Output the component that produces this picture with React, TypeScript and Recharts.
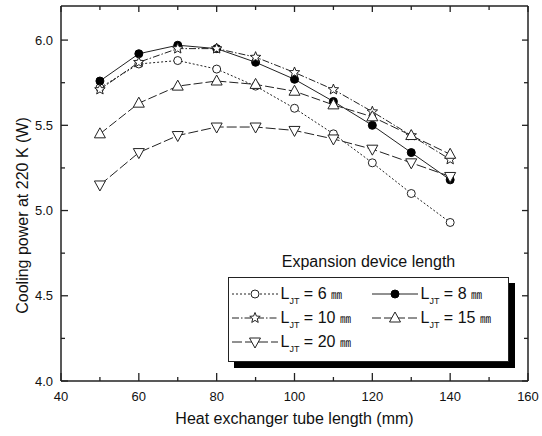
import React from 'react';
import { LineChart, Line, XAxis, YAxis, Legend } from 'recharts';

const tubeLength = [50, 60, 70, 80, 90, 100, 110, 120, 130, 140];
const ljt6 = [5.72, 5.86, 5.88, 5.83, 5.73, 5.6, 5.45, 5.28, 5.1, 4.93];
const ljt8 = [5.76, 5.92, 5.97, 5.95, 5.87, 5.77, 5.64, 5.5, 5.34, 5.18];
const ljt10 = [5.71, 5.87, 5.95, 5.95, 5.9, 5.81, 5.71, 5.58, 5.44, 5.3];
const ljt15 = [5.45, 5.63, 5.73, 5.76, 5.74, 5.7, 5.62, 5.55, 5.44, 5.33];
const ljt20 = [5.15, 5.34, 5.44, 5.49, 5.49, 5.47, 5.42, 5.36, 5.28, 5.2];

const jtLengths = ['6', '8', '10', '15', '20'];
const xTicks = [40, 50, 60, 70, 80, 90, 100, 110, 120, 130, 140, 150, 160];
const xMajor = [40, 60, 80, 100, 120, 140, 160];
const yTicks = [4.0, 4.25, 4.5, 4.75, 5.0, 5.25, 5.5, 5.75, 6.0];
const yMajor = [4.0, 4.5, 5.0, 5.5, 6.0];

const data = tubeLength.map((x, i) => ({
  x,
  l6: ljt6[i],
  l8: ljt8[i],
  l10: ljt10[i],
  l15: ljt15[i],
  l20: ljt20[i],
}));

const FONT = '"Liberation Sans", Arial, Helvetica, sans-serif';
const INK = '#222';
const TICK = '#222';

type MarkerKind = 'circle' | 'disc' | 'star' | 'up' | 'down';

const Marker = ({ kind, cx, cy }: { kind: MarkerKind; cx: number; cy: number }) => {
  if (kind === 'circle') return <circle cx={cx} cy={cy} r={4} fill="#fff" stroke={INK} strokeWidth={1} />;
  if (kind === 'disc') return <circle cx={cx} cy={cy} r={4} fill="#000" stroke="#000" strokeWidth={1} />;
  if (kind === 'star') {
    const pts: string[] = [];
    for (let k = 0; k < 10; k++) {
      const r = k % 2 === 0 ? 5.5 : 2.4;
      const a = -Math.PI / 2 + (k * Math.PI) / 5;
      pts.push(`${cx + r * Math.cos(a)},${cy + r * Math.sin(a)}`);
    }
    return <polygon points={pts.join(' ')} fill="#fff" stroke={INK} strokeWidth={1} />;
  }
  if (kind === 'up')
    return (
      <polygon
        points={`${cx},${cy - 6} ${cx - 5.5},${cy + 4} ${cx + 5.5},${cy + 4}`}
        fill="#fff"
        stroke={INK}
        strokeWidth={1}
      />
    );
  return (
    <polygon
      points={`${cx - 5.5},${cy - 4} ${cx + 5.5},${cy - 4} ${cx},${cy + 6}`}
      fill="#fff"
      stroke={INK}
      strokeWidth={1}
    />
  );
};

const series = [
  { key: 'l6', kind: 'circle' as MarkerKind, dash: '2 2' },
  { key: 'l8', kind: 'disc' as MarkerKind, dash: '' },
  { key: 'l10', kind: 'star' as MarkerKind, dash: '7 2 1.5 2' },
  { key: 'l15', kind: 'up' as MarkerKind, dash: '9 3' },
  { key: 'l20', kind: 'down' as MarkerKind, dash: '10 3' },
];

const LeftTick = (props: any) => {
  const { x, y, payload } = props;
  const major = yMajor.some((v) => Math.abs(v - payload.value) < 1e-6);
  return (
    <g>
      <line x1={x} y1={y} x2={x + (major ? 7 : 4)} y2={y} stroke={TICK} strokeWidth={1.3} />
      {major && (
        <text x={x - 8} y={y + 4.5} textAnchor="end" fontSize={13} fontFamily={FONT} fill="#111">
          {payload.value.toFixed(1)}
        </text>
      )}
    </g>
  );
};

const RightTick = (props: any) => {
  const { x, y, payload } = props;
  const major = yMajor.some((v) => Math.abs(v - payload.value) < 1e-6);
  return <line x1={x} y1={y} x2={x - (major ? 6 : 4)} y2={y} stroke={TICK} strokeWidth={1.3} />;
};

const BottomTick = (props: any) => {
  const { x, y, payload } = props;
  const major = xMajor.includes(payload.value);
  return (
    <g>
      <line x1={x} y1={y} x2={x} y2={y - (major ? 8 : 4)} stroke={TICK} strokeWidth={1.3} />
      {major && (
        <text x={x} y={y + 20} textAnchor="middle" fontSize={13} fontFamily={FONT} fill="#111">
          {payload.value}
        </text>
      )}
    </g>
  );
};

const TopTick = (props: any) => {
  const { x, y, payload } = props;
  const major = xMajor.includes(payload.value);
  return <line x1={x} y1={y} x2={x} y2={y + (major ? 6 : 4)} stroke={TICK} strokeWidth={1.3} />;
};

const renderLegend = (props: any) => {
  const raw: any[] = (props.payload || []).filter(
    (e: any) => e.type !== 'none' && series.some((q) => q.key === e.dataKey)
  );
  const seen = new Set<string>();
  const payload = raw.filter((e: any) => {
    if (seen.has(e.dataKey)) return false;
    seen.add(e.dataKey);
    return true;
  });
  const ordered = [...payload].sort(
    (a, b) => series.findIndex((q) => q.key === a.dataKey) - series.findIndex((q) => q.key === b.dataKey)
  );
  return (
    <div style={{ fontFamily: FONT, color: '#111', width: 281 }}>
      <div style={{ textAlign: 'center', fontSize: 16, height: 27, lineHeight: '24px' }}>Expansion device length</div>
      <div
        style={{
          border: `1.5px solid ${INK}`,
          boxShadow: '6px 6px 0 #000',
          width: 281,
          height: 85,
          boxSizing: 'border-box',
          background: '#fff',
          display: 'grid',
          gridTemplateColumns: '140px 138px',
          gridAutoRows: '24px',
          padding: '4px 0 0 2.5px',
        }}
      >
        {ordered.map((entry: any) => {
          const idx = series.findIndex((q) => q.key === entry.dataKey);
          const s = series[idx];
          return (
            <div key={s.key} style={{ display: 'flex', alignItems: 'center', height: 24 }}>
              <svg width={46} height={16} style={{ display: 'block' }}>
                <line x1={0} y1={8} x2={46} y2={8} stroke={INK} strokeWidth={1} strokeDasharray={s.dash || undefined} />
                <Marker kind={s.kind} cx={23} cy={8} />
              </svg>
              <span style={{ marginLeft: 3, fontSize: 16, whiteSpace: 'nowrap' }}>
                L
                <span style={{ fontSize: 9, position: 'relative', top: 5 }}>JT</span>
                {` = ${jtLengths[idx]} `}
                <span style={{ fontSize: 11, fontFamily: '"Noto Sans CJK JP", "Noto Sans CJK SC", sans-serif', color: '#000' }}>㎜</span>
              </span>
            </div>
          );
        })}
      </div>
    </div>
  );
};

export default function App() {
  return (
    <div style={{ position: 'absolute', left: 0, top: 0, width: 542, height: 436, background: '#fff' }}>
      <LineChart
        width={542}
        height={436}
        data={data}
        margin={{ top: 5, right: 13, bottom: 25, left: 1 }}
      >
        <XAxis
          dataKey="x"
          type="number"
          domain={[40, 160]}
          ticks={xTicks}
          interval={0}
          tickSize={0}
          tickMargin={0}
          height={30}
          axisLine={{ stroke: INK, strokeWidth: 1.5 }}
          tickLine={false}
          tick={<BottomTick />}
          label={{
            content: (p: any) => {
              const vb = p.viewBox;
              return (
                <text x={vb.x + vb.width / 2} y={424} textAnchor="middle" fontSize={16} fontFamily={FONT} fill="#111">
                  Heat exchanger tube length (mm)
                </text>
              );
            },
          }}
        />
        <XAxis
          xAxisId="top"
          orientation="top"
          dataKey="x"
          type="number"
          domain={[40, 160]}
          ticks={xTicks}
          interval={0}
          tickSize={0}
          tickMargin={0}
          height={1}
          axisLine={{ stroke: INK, strokeWidth: 1.5 }}
          tickLine={false}
          tick={<TopTick />}
        />
        <YAxis
          type="number"
          domain={[4.0, 6.2]}
          ticks={yTicks}
          interval={0}
          tickSize={0}
          tickMargin={0}
          width={60}
          axisLine={{ stroke: INK, strokeWidth: 1.5 }}
          tickLine={false}
          tick={<LeftTick />}
          label={{
            content: (p: any) => {
              const vb = p.viewBox;
              const cx = 22;
              const cy = vb.y + vb.height / 2 + 22;
              return (
                <text
                  x={cx}
                  y={cy}
                  textAnchor="middle"
                  dominantBaseline="central"
                  transform={`rotate(-90 ${cx} ${cy})`}
                  fontSize={16}
                  fontFamily={FONT}
                  fill="#111"
                >
                  Cooling power at 220 K (W)
                </text>
              );
            },
          }}
        />
        <YAxis
          yAxisId="right"
          orientation="right"
          type="number"
          domain={[4.0, 6.2]}
          ticks={yTicks}
          interval={0}
          tickSize={0}
          tickMargin={0}
          width={1}
          axisLine={{ stroke: INK, strokeWidth: 1.5 }}
          tickLine={false}
          tick={<RightTick />}
        />
        <Legend
          layout="horizontal"
          verticalAlign="middle"
          align="center"
          content={renderLegend}
          wrapperStyle={{ left: 228, top: 250, width: 290 }}
        />
        <Line
          xAxisId="top"
          yAxisId="right"
          dataKey="l8"
          name="frame"
          stroke="none"
          dot={false}
          activeDot={false}
          legendType="none"
          isAnimationActive={false}
        />
        {series.map((s) => (
          <Line
            key={s.key}
            dataKey={s.key}
            stroke={INK}
            strokeWidth={1}
            strokeDasharray={s.dash || undefined}
            isAnimationActive={false}
            dot={(p: any) => <Marker key={`${s.key}-${p.index}`} kind={s.kind} cx={p.cx} cy={p.cy} />}
            activeDot={false}
          />
        ))}
      </LineChart>
    </div>
  );
}
